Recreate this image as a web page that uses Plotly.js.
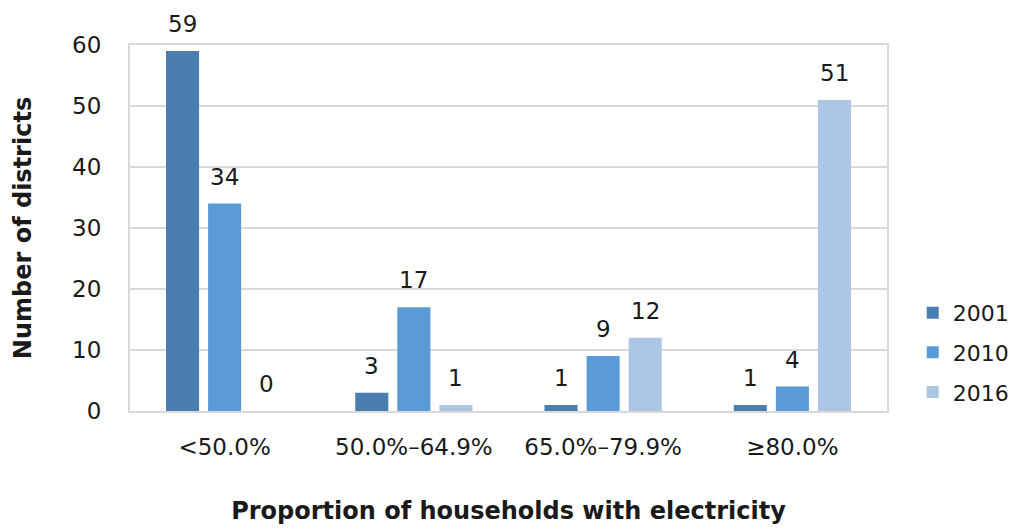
<!DOCTYPE html>
<html>
<head>
<meta charset="utf-8">
<script src="https://cdn.plot.ly/plotly-3.0.1.min.js"></script>
<style>
  html, body { margin: 0; padding: 0; background: #ffffff; }
  #chart { width: 1019px; height: 529px; }
</style>
</head>
<body>
<div id="chart"></div>
<script>
// Districts grouped by share of households with electricity
const categories = ["<50.0%", "50.0%\u201364.9%", "65.0%\u201379.9%", "\u226580.0%"];
const years = ["2001", "2010", "2016"];
const values2001 = [59, 3, 1, 1];
const values2010 = [34, 17, 9, 4];
const values2016 = [0, 1, 12, 51];
const colors = ["#4a7db0", "#5b9bd5", "#adc6e6"];

const FONT = "DejaVu Sans, sans-serif";
const INK = "#1a1a1a";
const seriesValues = [values2001, values2010, values2016];

const W = 1019, H = 529;
const margin = { l: 130, r: 132, t: 45, b: 118, autoexpand: false };
const bargap = 0.333;
const bargroupgap = 0.214;

const traces = years.map((yr, i) => ({
  type: "bar",
  name: yr,
  legendgroup: yr,
  x: categories,
  y: seriesValues[i],
  marker: { color: colors[i] },
  hoverinfo: "x+y+name"
}));

// value labels: one annotation per bar, shifted sideways to its slot in the group
const plotW = W - margin.l - margin.r;
const slotPx = plotW / categories.length * (1 - bargap) / years.length;
const annotations = [];
seriesValues.forEach((vals, i) => {
  vals.forEach((v, j) => {
    annotations.push({
      x: categories[j],
      y: v,
      xref: "x",
      yref: "y",
      text: String(v),
      showarrow: false,
      xanchor: "center",
      yanchor: "bottom",
      xshift: (i - (years.length - 1) / 2) * slotPx,
      yshift: 12,
      font: { family: FONT, size: 23, color: INK }
    });
  });
});

const layout = {
  width: W,
  height: H,
  margin: margin,
  paper_bgcolor: "#ffffff",
  plot_bgcolor: "#ffffff",
  font: { family: FONT, size: 22, color: INK },
  barmode: "group",
  bargap: bargap,
  bargroupgap: bargroupgap,
  annotations: annotations,
  showlegend: true,
  legend: {
    x: 1.034, xanchor: "left",
    y: 0.16, yanchor: "middle",
    font: { family: FONT, size: 22, color: INK },
    itemwidth: 30,
    traceorder: "grouped",
    tracegroupgap: 8,
    bgcolor: "rgba(0,0,0,0)"
  },
  xaxis: {
    type: "category",
    showgrid: false,
    showline: true,
    linecolor: "#d9d9d9",
    linewidth: 2,
    mirror: true,
    ticks: "",
    ticklabelstandoff: 14,
    tickfont: { family: FONT, size: 23, color: INK },
    title: {
      text: "<b>Proportion of households with electricity</b>",
      font: { family: FONT, size: 24, color: INK },
      standoff: 44
    },
    automargin: false
  },
  yaxis: {
    range: [0, 60],
    dtick: 10,
    showgrid: true,
    gridcolor: "#d9d9d9",
    gridwidth: 2,
    zeroline: false,
    showline: true,
    linecolor: "#d9d9d9",
    linewidth: 2,
    mirror: true,
    ticks: "",
    ticklabelstandoff: 22,
    tickfont: { family: FONT, size: 23, color: INK },
    title: {
      text: "<b>Number of districts</b>",
      font: { family: FONT, size: 24, color: INK },
      standoff: 34
    },
    automargin: false
  }
};

Plotly.newPlot("chart", traces, layout, { displayModeBar: false, staticPlot: true });
</script>
</body>
</html>
